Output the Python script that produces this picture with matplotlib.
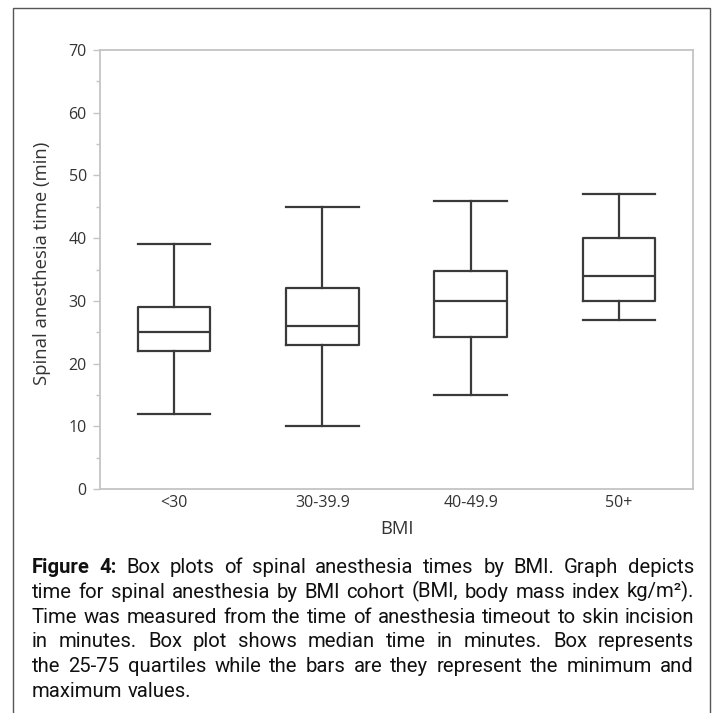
import matplotlib
matplotlib.use('Agg')
import matplotlib.pyplot as plt
from matplotlib.patches import Rectangle
from matplotlib.ticker import MultipleLocator

# ---------------- data ----------------
categories = ['<30', '30-39.9', '40-49.9', '50+']
mins = [12, 10, 15, 27]
q1s = [22, 23, 24.2, 30]
medians = [25, 26, 30, 34]
q3s = [29, 32, 34.8, 40]
maxs = [39, 45, 46, 47]
yticks = [0, 10, 20, 30, 40, 50, 60, 70]
ylabel = 'Spinal anesthesia time (min)'
xlabel = 'BMI'
caption_lines = [
    'Figure 4: Box plots of spinal anesthesia times by BMI. Graph depicts',
    'time for spinal anesthesia by BMI cohort (BMI, body mass index kg/m\u00b2).',
    'Time was measured from the time of anesthesia timeout to skin incision',
    'in minutes. Box plot shows median time in minutes. Box represents',
    'the 25-75 quartiles while the bars are they represent the minimum and',
    'maximum values.',
]

# ---------------- figure ----------------
W, H = 717, 713
fig = plt.figure(figsize=(W / 100, H / 100), dpi=100)
fig.patch.set_facecolor('white')


def fx(px):
    return px / W


def fy(py):
    return 1 - py / H


# outer frame
fig.patches.append(Rectangle((fx(13), fy(740)), fx(710) - fx(13), fy(8) - fy(740),
                             transform=fig.transFigure, fill=False,
                             edgecolor='#555555', linewidth=1.0))

ax = fig.add_axes([fx(100), fy(489), fx(693) - fx(100), fy(50) - fy(489)])

box_color = '#3a3a3a'
lw = 1.6
stats = []
for c, lo, a, m, b, hi in zip(categories, mins, q1s, medians, q3s, maxs):
    stats.append(dict(label=c, whislo=lo, q1=a, med=m, q3=b, whishi=hi, fliers=[]))

ax.bxp(stats, positions=range(1, len(categories) + 1), widths=0.49, capwidths=0.49,
       showfliers=False,
       boxprops=dict(color=box_color, linewidth=lw),
       whiskerprops=dict(color=box_color, linewidth=lw),
       capprops=dict(color=box_color, linewidth=lw),
       medianprops=dict(color=box_color, linewidth=lw))

ax.set_xlim(0.5, len(categories) + 0.5)
ax.set_ylim(0, 70)
ax.set_yticks(yticks)
ax.yaxis.set_minor_locator(MultipleLocator(5))

spine_color = '#c4c4c4'
for s in ax.spines.values():
    s.set_color(spine_color)
    s.set_linewidth(1.3)

tick_font = 'Open Sans'
label_color = '#333333'
ax.tick_params(axis='y', which='major', length=5, width=1.0, color=spine_color,
               pad=4.5, labelsize=11.5, labelcolor=label_color)
ax.tick_params(axis='y', which='minor', length=3, width=1.0, color=spine_color)
ax.tick_params(axis='x', which='both', length=0, pad=4.5, labelsize=11.5,
               labelcolor=label_color)
for lab in ax.get_xticklabels() + ax.get_yticklabels():
    lab.set_family(tick_font)

ax.set_ylabel(ylabel, fontsize=13.3, family=tick_font, color=label_color)
ax.yaxis.label.set_va('center')
ax.yaxis.set_label_coords((42 - 100) / 593, 0.515)
ax.set_xlabel(xlabel, fontsize=13.3, family=tick_font, color=label_color)
ax.xaxis.label.set_va('center')
ax.xaxis.set_label_coords(0.5, -(529 - 489) / 439)

# ---------------- justified caption ----------------
r = fig.canvas.get_renderer()
cap_font = 'Roboto'
x0, x1 = 32, 694
base0, step = 573, 24.8


def word_width(word, weight, fs):
    t = fig.text(0, 0, word, fontsize=fs, family=cap_font, weight=weight)
    w = t.get_window_extent(r).width
    t.remove()
    return w


def weight_of(li, wi):
    return 'bold' if (li == 0 and wi < 2) else 'normal'


fs = 14.6
space = 0.6 * (word_width('a b', 'normal', fs) - word_width('ab', 'normal', fs))
natural = 0
for li, line in enumerate(caption_lines[:-1]):
    words = line.split(' ')
    tot = sum(word_width(w, weight_of(li, i), fs) for i, w in enumerate(words))
    natural = max(natural, tot + space * (len(words) - 1))
if natural > (x1 - x0):
    fs *= (x1 - x0) / natural

for li, line in enumerate(caption_lines):
    words = line.split(' ')
    widths = [word_width(w, weight_of(li, i), fs) for i, w in enumerate(words)]
    last = li == len(caption_lines) - 1
    if last or len(words) == 1:
        gap = word_width('a b', 'normal', fs) - word_width('ab', 'normal', fs)
    else:
        gap = ((x1 - x0) - sum(widths)) / (len(words) - 1)
    x = x0
    yb = base0 + li * step
    for i, (w, wd) in enumerate(zip(words, widths)):
        fig.text(fx(x), fy(yb), w, fontsize=fs, family=cap_font,
                 weight=weight_of(li, i), color='#111111', va='baseline', ha='left')
        x += wd + gap

fig.savefig('out.png', dpi=100)
